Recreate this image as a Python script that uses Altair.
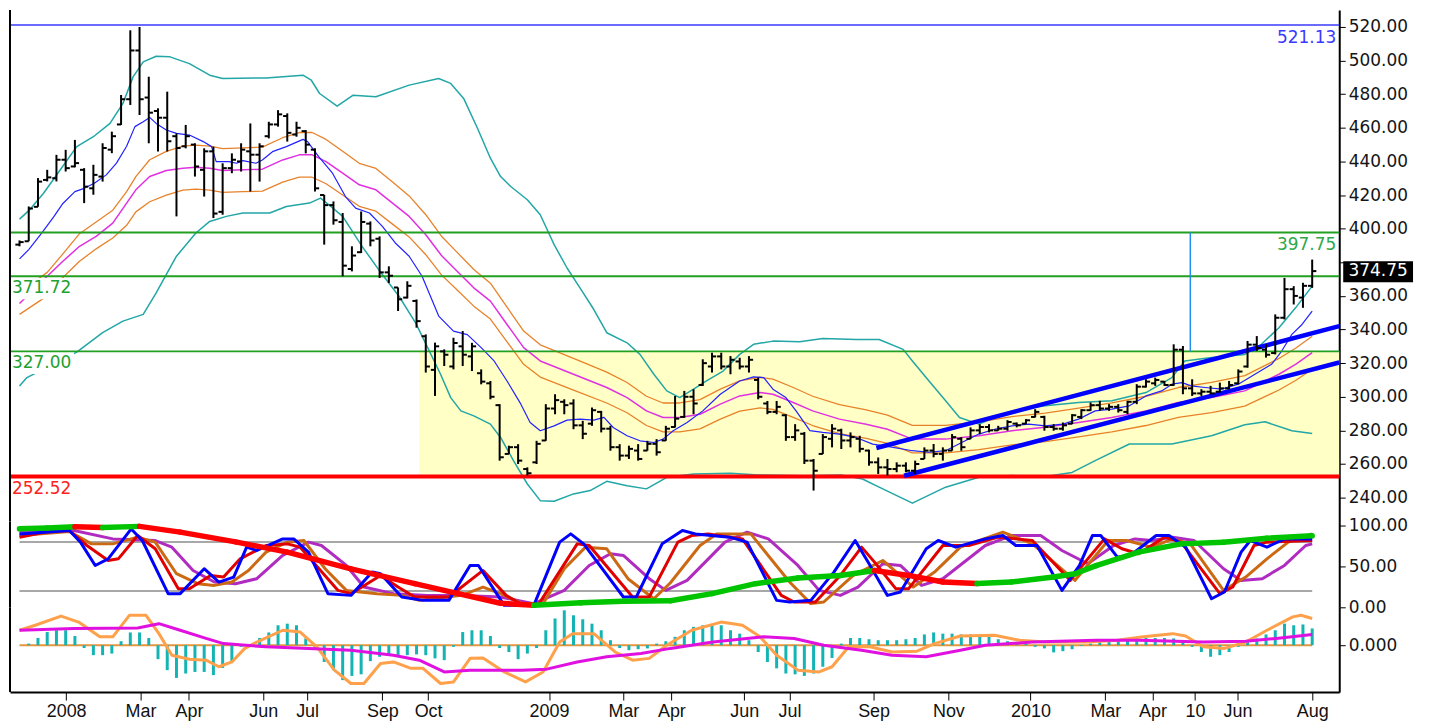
import json
import altair as alt
import pandas as pd

# ---------------- weekly price bars (week 0 = late Nov 2007 ... week 140 = Aug 2010) ----------------
opens = [390.5, 392.5, 413.0, 429.0, 430.0, 441.0, 437.0, 435.0, 424.0, 431.0,
         447.0, 462.0, 477.0, 506.0, 478.0, 470.0, 466.0, 455.0, 449.0, 450.0,
         435.0, 446.0, 410.0, 436.0, 440.0, 446.0, 444.0, 455.0, 462.0, 467.0,
         456.0, 458.0, 447.0, 420.0, 414.0, 404.0, 376.0, 386.0, 403.0, 394.0,
         374.0, 365.0, 359.0, 357.0, 336.0, 316.0, 327.0, 318.0, 330.0, 324.0,
         314.0, 308.0, 295.0, 266.0, 270.0, 257.0, 261.0, 274.0, 293.0, 297.0,
         296.0, 283.0, 284.0, 291.0, 281.0, 270.0, 265.0, 268.0, 268.0, 272.0,
         274.0, 282.0, 288.0, 300.0, 307.0, 318.0, 324.0, 318.0, 321.0, 318.0,
         310.0, 296.0, 291.0, 289.0, 276.0, 278.0, 262.0, 266.0, 275.0, 280.0,
         274.0, 275.0, 268.0, 261.0, 258.0, 257.0, 259.0, 256.0, 263.0, 268.0,
         266.0, 268.0, 275.0, 275.0, 280.0, 282.0, 280.0, 281.0, 284.0, 284.0,
         288.0, 288.0, 282.0, 281.0, 284.0, 288.0, 292.0, 295.0, 293.0, 294.0,
         291.0, 297.0, 306.0, 308.0, 309.0, 307.0, 328.0, 305.0, 302.0, 303.0,
         303.0, 305.0, 308.0, 318.0, 331.0, 328.0, 326.0, 347.0, 364.0, 359.0,
         366.0]
highs = [393.0, 413.2, 430.1, 435.0, 443.9, 446.9, 452.8, 436.0, 438.0, 450.8,
         457.7, 479.5, 518.0, 520.0, 490.4, 471.6, 481.5, 456.7, 461.7, 450.8,
         447.8, 448.8, 438.9, 444.8, 450.8, 462.6, 450.8, 463.6, 470.5, 468.6,
         463.6, 458.7, 447.8, 420.1, 416.2, 409.3, 389.5, 410.2, 404.3, 395.4,
         377.6, 365.0, 368.7, 357.9, 337.1, 332.2, 328.2, 335.1, 339.1, 332.1,
         316.3, 309.4, 295.6, 270.9, 271.8, 258.0, 273.8, 295.6, 301.5, 298.5,
         298.5, 285.7, 293.6, 291.6, 282.7, 271.8, 270.9, 271.8, 273.8, 274.8,
         282.7, 300.5, 303.5, 304.5, 322.3, 326.2, 326.2, 324.2, 323.2, 324.2,
         311.4, 297.5, 297.5, 289.6, 283.7, 279.0, 263.0, 277.8, 283.7, 281.0,
         278.8, 276.8, 268.5, 263.9, 263.0, 261.0, 261.0, 262.0, 269.9, 271.9,
         269.9, 277.8, 276.0, 281.8, 283.7, 283.7, 282.7, 286.1, 284.7, 286.7,
         292.6, 288.7, 283.7, 284.7, 289.7, 292.6, 296.6, 297.6, 295.6, 295.6,
         297.6, 307.5, 310.4, 311.4, 309.4, 331.2, 330.2, 310.4, 304.5, 306.5,
         308.4, 309.4, 316.3, 333.2, 336.1, 331.2, 349.0, 370.7, 365.8, 367.8,
         381.6]
lows = [389.5, 392.5, 413.0, 428.1, 428.1, 434.0, 436.5, 415.2, 420.2, 428.0,
        444.9, 461.7, 473.6, 467.6, 450.8, 445.9, 445.9, 407.3, 447.8, 431.0,
        419.1, 406.3, 408.3, 433.0, 434.0, 422.1, 428.0, 453.7, 460.7, 451.8,
        454.7, 444.8, 422.1, 390.5, 402.4, 371.7, 374.6, 385.5, 389.5, 370.7,
        367.7, 351.0, 358.5, 341.1, 314.4, 300.5, 318.3, 316.3, 318.3, 315.3,
        307.4, 298.5, 262.0, 265.9, 260.0, 253.1, 260.0, 273.8, 289.6, 289.6,
        280.7, 274.8, 282.7, 278.8, 267.9, 262.0, 263.0, 262.0, 267.9, 265.0,
        273.8, 281.7, 287.5, 289.6, 306.4, 314.4, 316.3, 313.4, 316.3, 314.4,
        298.5, 289.6, 289.6, 273.8, 273.8, 260.0, 244.2, 265.9, 269.9, 268.9,
        269.9, 266.9, 259.0, 254.1, 253.1, 255.1, 255.1, 254.1, 263.0, 264.0,
        262.0, 267.9, 267.9, 274.8, 277.8, 278.8, 279.8, 279.8, 281.8, 283.7,
        287.7, 279.8, 279.8, 279.8, 283.7, 286.7, 291.6, 291.6, 291.6, 290.6,
        289.7, 295.6, 305.5, 306.5, 306.5, 306.5, 301.5, 300.5, 300.5, 301.5,
        302.5, 304.5, 307.4, 317.3, 327.2, 323.3, 325.2, 346.0, 354.9, 352.9,
        364.8]
closes = [392.0, 412.0, 428.0, 430.5, 441.0, 436.0, 439.0, 425.0, 432.0, 448.0,
          455.0, 477.0, 506.0, 477.0, 469.0, 466.0, 452.0, 448.0, 455.0, 437.0,
          446.0, 409.0, 436.0, 441.0, 447.0, 444.0, 449.0, 462.0, 468.0, 457.0,
          460.0, 450.0, 424.0, 414.0, 405.0, 378.0, 384.0, 404.0, 393.0, 374.0,
          372.0, 358.0, 366.0, 345.0, 318.0, 330.0, 325.0, 332.0, 325.0, 330.0,
          309.0, 300.0, 264.0, 270.0, 262.0, 254.5, 272.0, 293.0, 298.0, 295.0,
          283.0, 278.0, 292.0, 281.0, 270.0, 265.0, 269.0, 263.0, 272.0, 267.0,
          281.0, 287.0, 300.0, 296.0, 320.0, 324.0, 318.0, 322.0, 318.0, 322.0,
          300.0, 291.0, 294.0, 276.0, 280.0, 262.0, 256.0, 276.0, 281.0, 274.0,
          276.0, 269.0, 261.0, 258.0, 257.0, 259.0, 256.0, 260.0, 268.0, 266.0,
          268.0, 276.0, 270.0, 280.0, 282.0, 280.0, 281.0, 285.0, 283.0, 286.0,
          291.0, 282.0, 281.0, 283.0, 289.0, 292.0, 295.0, 293.0, 294.0, 292.0,
          297.0, 306.0, 309.0, 310.0, 307.0, 328.0, 305.0, 302.0, 303.0, 302.0,
          305.0, 307.0, 315.0, 331.0, 329.0, 325.0, 347.0, 364.0, 360.0, 366.0,
          374.75]

# ---------------- price-panel indicator lines (week, value) ----------------
ma_fast_wk = [0, 1, 2.4, 3.7, 4.7, 6, 7, 8.1, 9.4, 10.5, 11.6, 12.5, 13.4, 14.1, 14.8, 15.9, 17, 18.4, 19.9, 20.8,
              21.3, 22.7, 23.5, 24.2, 25.6, 26.3, 27.4, 28.9, 30.7, 31.2, 32.4, 33.9, 35.3, 36.4, 37.9, 39.3, 40.7, 42.2, 43.6, 45.4,
              47, 48.5, 50, 51.4, 52.8, 54.3, 55.3, 56.4, 57.9, 59.3, 60.7, 62.2, 63.3, 64.3, 65.8, 67.2, 68.7, 69.7, 70.8, 72.3,
              74, 75.9, 78, 79.5, 80.6, 81.6, 83, 84.1, 85.6, 87, 88.8, 90.6, 92.4, 94, 96.7, 98.5, 100.3, 102.1, 103.9, 105.7,
              107.5, 109.3, 111.1, 113, 114.7, 116.5, 118.3, 120.2, 122, 123.7, 124.8, 125.9, 126.9, 128.4, 130.2, 132, 133.8, 135.6, 136.7, 137.8,
              138.9, 140]
ma_fast = [382, 387.5, 397.4, 407, 415, 422, 424, 427, 432, 439, 449, 460.7, 463.6, 466.2, 462.6, 458.7, 456.7, 455.7, 451.8, 448.8,
           439.9, 439.9, 438.9, 440.5, 438.9, 440.9, 445.8, 448.8, 453.1, 451.8, 442.9, 433, 419.1, 412.2, 409.3, 401.4, 391.5, 383.6, 371.7, 348,
           339, 337, 329.2, 321.3, 309.4, 295.6, 284.7, 279.8, 282.7, 286.1, 286.7, 286.1, 287.7, 281.7, 276.8, 273.8, 272.8, 274.8, 279.8, 284.7,
           291.6, 301.5, 309.4, 311.8, 311.4, 304.5, 299.5, 291.6, 279.8, 278.8, 277.8, 275.8, 271.8, 270.5, 267.9, 267, 267.9, 272.9, 277.8, 280.8,
           282.7, 283.7, 282.7, 283.7, 286.7, 291.6, 292.6, 294.6, 300.5, 303.5, 307.5, 308.4, 306.5, 305.5, 304.5, 307.5, 313.4, 319.3, 327.2, 337.1,
           343, 350.9]

bb_up_wk = [0, 1.1, 2.6, 4.4, 6.2, 8, 9.8, 11.2, 12.3, 13.4, 14.8, 16.3, 18.4, 20.6, 22, 26.7, 30.7, 31.6, 32.5, 34.4,
            36.1, 38.6, 42.2, 45.4, 46.7, 48.1, 49.6, 51, 52.1, 53.2, 55, 56.4, 57.9, 59.3, 60.7, 62.2, 63.6, 65.8, 67.2, 68.7,
            70.1, 71.5, 73, 74.4, 76.2, 78, 79.5, 81.6, 84.5, 87, 90.6, 93.1, 95.7, 96.7, 98.5, 100.3, 101.8, 103.9, 107.5, 111.1,
            114.7, 118.3, 122, 124.8, 126.2, 129.1, 132.7, 134.5, 136.4, 138.2, 140]
bb_up = [405.7, 411.2, 421.1, 434.9, 448.8, 454.7, 462.6, 474.5, 490.3, 499.2, 502.6, 502.2, 498.2, 491.3, 489.3, 489.7, 491.3, 488.3, 480.4, 472.9,
         479.3, 478.5, 485.4, 489.3, 486.4, 477.5, 459.7, 441.9, 431, 425.1, 417.2, 408.3, 390.5, 376.6, 364.8, 351.9, 338.1, 332.1, 325.2, 313.4,
         303.5, 299.5, 304.5, 309.4, 315.3, 325.2, 331.2, 333.1, 332.7, 334.7, 334.1, 334.1, 328.2, 321.3, 309.4, 297.6, 287.7, 283.7, 291.6, 294.6,
         296.6, 297.6, 302.5, 311.4, 321.3, 323.3, 325.2, 331.2, 341.1, 352.9, 365.8]

bb_dn_wk = [0, 0.8, 6.2, 9, 11.2, 13.4, 14.8, 17, 19.1, 20.6, 22.4, 24.2, 27.1, 28.9, 31.4, 32.6, 33.5, 35, 37.1, 38.9,
            41.1, 42.9, 44.3, 45.6, 46.7, 47.8, 49.2, 51, 52.1, 53.5, 55, 56.4, 57.9, 60, 61.8, 63.6, 65.8, 67.9, 70.1, 73,
            77, 80, 85, 89, 91.3, 93.1, 96.7, 100.3, 103.9, 107.5, 111.1, 114, 116.5, 120.2, 124.8, 129.1, 132.7, 134.9, 137.8, 140]
bb_dn = [306.4, 311.4, 326.6, 338.1, 345, 349, 361.8, 383.6, 397.4, 404.3, 407.3, 409.3, 409.3, 413.2, 415.2, 418.2, 414.2, 407.3, 389.5, 375.6,
         359.8, 344, 328.2, 313.4, 299.5, 291.6, 288.6, 283.7, 275.8, 262, 248.1, 238.2, 237.8, 242.2, 244.2, 249.7, 247.1, 245.2, 252.1, 254,
         254.5, 253.5, 253, 253.5, 251.1, 246.2, 236.7, 246.2, 252.1, 253.1, 252.5, 255, 262, 271.9, 271.9, 276.8, 283.3, 285.1, 279.8, 278.2]

ma_mid_wk = [0, 3, 4.7, 6.5, 8.3, 10.1, 11.6, 12.6, 14.1, 15.9, 17.7, 19.1, 20.6, 22, 24.2, 26.3, 28.5, 30.3, 31.7, 33.2,
             35, 36.8, 38.6, 40.4, 42.2, 44, 45.7, 47.4, 49.2, 51, 52.8, 54.6, 56.4, 60, 63.6, 65.8, 67.9, 69.7, 71.5, 73.7,
             75.9, 78, 80.2, 81.6, 83.8, 85.9, 88.8, 91.7, 94, 96.7, 100.3, 103.9, 107.5, 111.1, 114.7, 118.3, 122, 125.5, 129.1, 132.7,
             136.4, 138.2, 140]
ma_mid = [355.5, 371.7, 380.6, 389.5, 395.4, 403.3, 415.2, 423.1, 431, 434.6, 436, 436.6, 436, 434.6, 435, 435.4, 440.9, 443.9, 443.9, 439.9,
          433, 426.1, 423.1, 415.2, 407.3, 396.4, 384, 374.7, 364.8, 356.9, 343, 329.2, 321.3, 313.4, 305.5, 299.5, 291.6, 287.7, 287.7, 289.6,
          295.6, 300.5, 302.5, 301.5, 296.6, 291.6, 286.7, 283.7, 280.7, 274.8, 274.8, 276.8, 279.8, 281.8, 284.7, 287.7, 291.6, 296.6, 299.5, 303.5,
          313.4, 319.3, 326.2]
env_up = [362, 374, 385, 397, 404, 411, 422, 431, 441, 446, 449.1, 449.7, 449.1, 447.6, 448.1, 448.5, 454.1, 457.2, 457.2, 453.1,
          446.0, 438.9, 435.8, 427.7, 419.5, 408.3, 395.5, 385.9, 375.7, 367.6, 353.3, 339.1, 330.9, 322.8, 314.7, 308.5, 300.3, 296.3, 296.3, 298.3,
          304.5, 309.5, 311.6, 310.5, 305.5, 300.3, 295.3, 292.2, 289.1, 283.0, 283.0, 285.1, 288.2, 290.3, 293.2, 296.3, 300.3, 305.5, 308.5, 312.6,
          322.8, 328.9, 336.0]
env_dn = [349, 360, 371, 380.6, 388, 394.4, 402, 410, 416, 420, 422.9, 423.5, 422.9, 421.6, 422.0, 422.3, 427.7, 430.6, 430.6, 426.7,
          420.0, 413.3, 410.4, 402.7, 395.1, 384.5, 372.5, 363.5, 353.9, 346.2, 332.7, 319.3, 311.7, 304.0, 296.3, 290.5, 282.9, 279.1, 279.1, 280.9,
          286.7, 291.5, 293.4, 292.5, 287.7, 282.9, 278.1, 275.2, 272.3, 266.6, 266.6, 268.5, 271.4, 273.3, 276.2, 279.1, 282.9, 287.7, 290.5, 294.4,
          304.0, 309.7, 316.4]

# trend channel, levels, zone
channel_up_wk = [92.8, 142.93]
channel_up = [269.5, 342.0]
channel_dn_wk = [95.8, 142.93]
channel_dn = [253.0, 320.4]
level_vals = [521.13, 397.75, 371.72, 327.00, 252.52]
zone_wk = [43.3, 142.93]
marker_wk = 126.8
last_price = 374.75

# ---------------- stochastic panel (week, value) ----------------
sto_blue_wk = [0, 2.7, 5.4, 6.6, 8.2, 9.6, 12.1, 13.3, 16.1, 17.4, 20.0, 21.6, 23.2, 24.6, 25.7, 28.5, 29.7, 31.3, 33.4, 35.9,
               38.2, 39.1, 41.4, 43.7, 46.5, 48.8, 49.7, 52.5, 55.7, 58.5, 59.7, 61.1, 65.4, 66.8, 69.6, 71.8, 73.2, 76.9, 78.8, 82.0,
               83.4, 85.7, 88.2, 90.5, 91.9, 94.0, 95.4, 98.2, 99.5, 101.4, 104.6, 106.5, 107.9, 110.2, 112.9, 114.8, 116.2, 117.1, 118.9, 120.3,
               123.1, 124.5, 126.3, 129.1, 130.5, 132.3, 133.3, 135.1, 137.0, 140.0]
sto_blue = [89.8, 91.9, 93.9, 79.7, 51.2, 59.3, 95.9, 81.7, 16.7, 16.7, 47.2, 30.9, 37.0, 73.6, 69.5, 83.7, 83.7, 67.5, 16.7, 14.6,
            43.1, 41.1, 12.6, 8.5, 8.5, 51.2, 51.2, 2.4, 2.4, 79.7, 89.8, 77.6, 12.6, 12.6, 77.6, 93.9, 89.8, 85.8, 79.7, 8.5,
            6.5, 8.5, 43.1, 81.7, 55.3, 14.6, 18.7, 71.6, 81.7, 73.6, 83.7, 87.8, 75.6, 75.6, 20.7, 51.2, 87.8, 87.8, 61.4, 63.4,
            87.8, 87.8, 73.6, 10.5, 18.7, 67.5, 81.7, 73.6, 83.7, 83.7]
sto_red_wk = [0, 2.7, 5.4, 7.3, 9.6, 10.7, 12.8, 14.7, 17.2, 18.4, 20.7, 22.1, 23.9, 26.7, 29.0, 30.4, 34.5, 35.9, 39.1, 41.0,
              42.8, 46.5, 50.2, 52.7, 54.4, 56.2, 60.4, 61.7, 66.4, 68.2, 71.3, 72.8, 74.6, 78.3, 82.5, 83.9, 86.2, 88.9, 91.2, 92.6,
              94.9, 96.3, 100.0, 102.8, 106.0, 109.7, 113.8, 115.7, 117.5, 119.4, 121.2, 124.0, 125.8, 130.0, 131.4, 133.7, 135.1, 140.0]
sto_red = [85.8, 91.9, 93.9, 75.6, 57.3, 59.3, 87.8, 71.6, 22.8, 22.8, 39.0, 37.0, 59.3, 75.6, 77.6, 73.6, 20.7, 16.7, 39.0, 24.8,
           12.6, 12.6, 45.1, 14.6, 3.3, 3.3, 77.6, 75.6, 12.6, 12.6, 79.7, 87.8, 89.8, 83.7, 14.6, 6.5, 6.5, 39.0, 73.6, 55.3,
           22.8, 22.8, 75.6, 75.6, 85.8, 81.7, 32.9, 59.3, 83.7, 71.6, 65.5, 85.8, 79.7, 16.7, 24.8, 75.6, 79.7, 81.7]
sto_brown_wk = [0, 5.4, 7.8, 10.1, 12.8, 14.7, 17.0, 19.3, 21.1, 23.0, 24.8, 26.7, 29.0, 30.8, 33.1, 35.4, 38.7, 41.4, 43.3, 47.9,
                50.2, 52.1, 54.4, 56.7, 59.0, 61.3, 63.6, 65.9, 68.7, 70.5, 73.7, 75.5, 79.2, 83.4, 85.7, 87.1, 90.3, 93.5, 96.8, 99.1,
                101.9, 106.5, 109.7, 114.3, 117.9, 119.9, 122.6, 124.9, 126.8, 130.4, 132.8, 135.1, 137.4, 140.0]
sto_brown = [87.8, 92.7, 77.6, 77.6, 85.8, 79.7, 41.1, 28.9, 26.8, 30.9, 45.1, 67.5, 79.7, 81.7, 47.2, 20.7, 16.7, 14.6, 8.5, 14.6,
             24.8, 16.7, 4.5, 4.5, 47.2, 73.6, 71.6, 35.0, 10.5, 30.0, 75.6, 89.8, 89.8, 30.9, 4.5, 6.5, 39.0, 57.3, 24.8, 43.1,
             73.6, 91.9, 77.6, 32.9, 81.7, 81.7, 73.6, 83.7, 77.6, 20.7, 37.0, 59.3, 79.7, 89.8]
sto_purple_wk = [0, 5.9, 10.1, 14.7, 16.5, 18.8, 21.1, 23.4, 25.7, 28.5, 31.3, 32.7, 35.4, 37.3, 40.5, 44.2, 47.9, 52.1, 55.7, 59.0,
                 61.7, 64.0, 65.4, 68.2, 70.0, 72.3, 76.4, 78.8, 81.1, 84.3, 86.6, 88.9, 90.8, 93.5, 95.4, 97.7, 100.0, 104.6, 107.4, 110.6,
                 112.9, 115.7, 118.5, 120.8, 122.6, 124.9, 127.2, 130.4, 132.3, 134.6, 137.0, 139.3, 140.0]
sto_purple = [91.9, 93.9, 83.7, 81.7, 73.6, 45.1, 30.9, 28.9, 35.0, 63.4, 79.7, 75.6, 51.2, 24.8, 16.7, 14.6, 14.6, 12.6, 4.5, 20.7,
              51.2, 65.5, 63.4, 35.0, 20.7, 32.9, 79.7, 91.9, 83.7, 51.2, 20.7, 14.6, 24.8, 53.3, 51.2, 26.8, 35.0, 75.6, 87.8, 87.8,
              69.5, 53.3, 75.6, 83.7, 81.7, 85.8, 81.7, 47.2, 32.9, 35.0, 51.2, 75.6, 77.6]
sto_slow_wk = [0, 3, 6, 9, 13, 17.4, 23.4, 29, 35.9, 42.8, 47.4, 52.1, 55.7, 60.8, 65.4, 70.5, 75, 79.7, 84.3, 88.9,
               92.6, 96.3, 100, 103.7, 107.4, 112, 114.3, 116.6, 121.2, 125.8, 130.4, 135.1, 140]
sto_slow = [96.0, 97.0, 98.5, 97.5, 99.0, 92.0, 80.0, 67.5, 47.0, 29.0, 17.0, 5.0, 2.5, 5.5, 7.3, 8.0, 16.7, 28.9, 35.8, 39.0,
            45.0, 39.0, 31.0, 29.0, 31.0, 37.0, 41.0, 51.0, 67.5, 77.6, 79.7, 84.6, 87.5]
sto_bands = [80, 20]

# ---------------- MACD panel ----------------
macd_wk = [0, 1.7, 4.5, 6.4, 8.7, 10.1, 11.9, 13.7, 15.1, 16.5, 18.4, 20.2, 21.6, 23.0, 24.4, 25.7, 28.5, 30.4, 32.2, 34.1,
           35.9, 37.3, 39.1, 40.5, 42.4, 43.7, 45.6, 47.0, 48.8, 50.2, 52.5, 54.8, 56.7, 58.5, 59.9, 62.2, 64.5, 66.4, 68.2, 70.1,
           72.8, 76.0, 78.3, 80.2, 82.0, 84.3, 86.6, 88.0, 89.8, 92.1, 94.5, 97.2, 99.1, 101.9, 105.6, 108.3, 111.1, 115.7, 118.9, 121.7,
           124.9, 126.3, 128.2, 130.5, 132.8, 135.1, 137.9, 138.8, 140.0]
macd = [3.75, 5.0, 7.3, 5.8, 2.1, 2.1, 7.5, 7.5, 2.9, -2.5, -3.5, -3.75, -5.4, -4.2, -0.8, 0.8, 3.75, 3.3, -0.4, -6.25,
        -9.6, -9.6, -4.6, -4.2, -5.8, -5.8, -9.6, -9.2, -3.3, -3.2, -6.7, -9.2, -6.7, 0.8, 2.9, 2.9, -1.7, -3.75, -3.3, 0.0,
        3.75, 5.8, 5.0, 2.1, -2.5, -6.25, -6.7, -5.4, -0.4, -0.4, -1.7, -1.5, 0.4, 2.3, 2.5, 1.25, 0.8, 0.8, 1.25, 2.1,
        2.9, 2.3, -0.4, -0.8, 0.8, 3.75, 7.1, 7.5, 6.7]
signal_wk = [0, 5.9, 12.8, 15.1, 17.4, 20.2, 22.1, 26.7, 31.3, 35.9, 40.5, 43.3, 46.0, 48.8, 54.4, 57.1, 60.4, 63.6, 67.3, 70.5,
             75.1, 80.6, 83.9, 87.1, 91.2, 94.5, 98.2, 101.9, 104.6, 109.7, 116.6, 121.2, 128.2, 132.8, 136.1, 140.0]
signal = [3.75, 4.2, 4.3, 5.4, 3.75, 1.7, 0.4, -0.4, -0.8, -1.25, -2.5, -3.75, -6.7, -6.25, -6.25, -6.0, -4.2, -2.9, -2.1, -0.8,
          0.8, 2.1, 1.7, 0.0, -1.25, -2.5, -2.9, -1.25, 0.0, 0.8, 1.25, 1.25, 0.8, 1.0, 1.7, 2.7]
hist = [0, 0.4, 1.8, 3.3, 3.75, 3.75, 2.3, -0.7, -2.5, -2.5,
        -2.1, 1.0, 3.2, 3.2, 1.8, -3.5, -6.25, -8.2, -7.1, -6.7,
        -6.7, -7.5, -5.7, -4.2, -0.4, 0, 1.8, 3.2, 5.0, 5.4,
        5.0, 1.7, -0.7, -4.2, -6.25, -8.75, -7.7, -7.3, -4.0, -2.9,
        -2.5, -2.9, -2.5, -2.3, -2.5, -3.3, -3.75, -0.4, 3.3, 3.75,
        3.75, 2.3, -0.7, -1.7, -3.5, -2.1, -0.7, 3.75, 6.7, 8.75,
        7.5, 6.5, 5.4, 3.75, 1.25, -0.7, -1.25, -1.0, -0.8, 0.4,
        1.0, 2.1, 3.75, 4.6, 5.0, 5.2, 5.0, 3.75, 2.9, 1.25,
        -1.7, -4.2, -5.8, -7.1, -7.3, -7.7, -7.1, -5.4, -3.2, 0.4,
        1.8, 1.8, 1.5, 1.25, 1.25, 1.25, 1.5, 1.8, 2.7, 3.2,
        2.9, 2.9, 2.7, 2.7, 2.3, 2.1, 1.5, 1.0, 0.8, 0.4,
        -0.4, -0.8, -1.8, -1.5, -1.0, -0.2, 0.4, 0.8, 0.8, 1.0,
        1.25, 1.7, 1.8, 1.8, 1.8, 1.7, 1.0, -0.4, -1.7, -2.9,
        -2.5, -1.7, -0.4, 1.0, 1.7, 2.7, 3.75, 5.4, 5.0, 5.2,
        4.2]

# ---------------- x-axis ticks ----------------
tick_wk = [5.05, 13.1, 18.35, 26.4, 31.15, 39.3, 44.25, 57.35, 65.4, 70.6,
           78.5, 83.4, 92.5, 100.6, 109.5, 117.6, 122.7, 127.3, 131.9, 140.0]
tick_lbl = ["2008", "Mar", "Apr", "Jun", "Jul", "Sep", "Oct", "2009", "Mar", "Apr",
            "Jun", "Jul", "Sep", "Nov", "2010", "Mar", "Apr", "10", "Jun", "Aug"]

# ---------------- layout / style ----------------
W = 1333
H_P, H_S, H_M = 513, 86, 85
X_DOM = [-1.03, 142.93]
FONT = "DejaVu Sans"
XFONT = "Liberation Sans Narrow, Liberation Sans, Arial, sans-serif"


def frame(xs, ys):
    return pd.DataFrame([{"week": a, "v": b} for a, b in zip(xs, ys)])


def xenc(field, axis=None):
    return alt.X(field, type="quantitative",
                 scale=alt.Scale(domain=X_DOM, zero=False, nice=False), axis=axis)


def right_axis(values, fmt, expr=None):
    kw = dict(orient="right", values=values, format=fmt, labelFont=FONT, labelFontSize=17,
              labelColor="#151515", labelPadding=3, tickSize=6, tickColor="black",
              domainColor="black", domainWidth=2, grid=False, title=None,
              labelFlush=False, labelOverlap=False)
    if expr:
        kw["labelExpr"] = expr
    return alt.Axis(**kw)


p_scale = alt.Scale(domain=[225.76, 530.08], zero=False, nice=False)
p_axis = right_axis(list(range(240, 521, 20)), ".2f",
                    "datum.value == 380 ? '' : format(datum.value, '.2f')")
s_scale = alt.Scale(domain=[0, 104.9], zero=False, nice=False)
s_axis = right_axis([0, 50, 100], ".2f")
m_scale = alt.Scale(domain=[-11.75, 9.5], zero=False, nice=False)
m_axis = right_axis([0], ".3f")

x_axis = alt.Axis(orient="bottom", values=tick_wk,
                  labelExpr=f"{json.dumps(tick_lbl)}[indexof({json.dumps(tick_wk)}, datum.value)]",
                  tickSize=8, tickColor="black", domainColor="black", domainWidth=2,
                  labelFont=XFONT, labelFontSize=18, labelColor="#111111", labelPadding=2,
                  grid=False, title=None, labelOverlap=False, labelFlush=False)


def yp(f):
    return alt.Y(f, type="quantitative", scale=p_scale, axis=p_axis)


def ys(f):
    return alt.Y(f, type="quantitative", scale=s_scale, axis=s_axis)


def ym(f):
    return alt.Y(f, type="quantitative", scale=m_scale, axis=m_axis)


def line(xs, vals, color, width, yfn, axis=None):
    return alt.Chart(frame(xs, vals)).mark_line(color=color, strokeWidth=width, strokeJoin="round").encode(
        x=xenc("week", axis), y=yfn("v"))


def border(h):
    return alt.Chart(pd.DataFrame({"a": [0]})).mark_rule(color="black", strokeWidth=2).encode(
        x=alt.value(0), y=alt.value(0), y2=alt.value(h))


# ---------------- price panel ----------------
zone = alt.Chart(pd.DataFrame({"x0": [zone_wk[0]], "x1": [zone_wk[1]],
                               "y0": [level_vals[4]], "y1": [level_vals[3]]})).mark_rect(
    color="#FFFFC6").encode(x=xenc("x0"), x2="x1", y=yp("y0"), y2="y1")

teal = "#22A6A6"
bb_u = line(bb_up_wk, bb_up, teal, 1.5, yp)
bb_d = line(bb_dn_wk, bb_dn, teal, 1.5, yp)
e_u = line(ma_mid_wk, env_up, "#E8822A", 1.3, yp)
e_d = line(ma_mid_wk, env_dn, "#E8822A", 1.3, yp)
mid = line(ma_mid_wk, ma_mid, "#E030E0", 1.5, yp)
fast = line(ma_fast_wk, ma_fast, "#2222FF", 1.2, yp)

level_colors = ["#3A3AFF", "#22A022", "#22A022", "#22A022", "#FF0000"]
level_widths = [1.5, 2, 2, 2, 4]
levels = [alt.Chart(pd.DataFrame({"v": [v]})).mark_rule(color=c, strokeWidth=w).encode(y=yp("v"))
          for v, c, w in zip(level_vals, level_colors, level_widths)]

ch_u = alt.Chart(frame(channel_up_wk, channel_up)).mark_line(color="#0000FF", strokeWidth=4.5, strokeCap="butt").encode(
    x=xenc("week"), y=yp("v"))
ch_d = alt.Chart(frame(channel_dn_wk, channel_dn)).mark_line(color="#0000FF", strokeWidth=4.5, strokeCap="butt").encode(
    x=xenc("week"), y=yp("v"))

marker = alt.Chart(pd.DataFrame({"week": [marker_wk], "lo": [level_vals[3]], "hi": [level_vals[1]]})).mark_rule(
    color="#2090F0", strokeWidth=1.5).encode(x=xenc("week"), y=yp("lo"), y2="hi")

ohlc = pd.DataFrame({"week": list(range(len(closes))), "open": opens, "high": highs,
                     "low": lows, "close": closes})
bar_hl = alt.Chart(ohlc).mark_rule(color="black", strokeWidth=2).encode(
    x=xenc("week"), y=yp("low"), y2="high")
bar_o = alt.Chart(ohlc).transform_calculate(xl="datum.week - 0.45").mark_rule(
    color="black", strokeWidth=2).encode(x=xenc("xl"), x2=alt.X2("week"), y=yp("open"))
bar_c = alt.Chart(ohlc).transform_calculate(xr="datum.week + 0.45").mark_rule(
    color="black", strokeWidth=2).encode(x=xenc("week"), x2=alt.X2("xr"), y=yp("close"))

# label backing boxes (white) at the left side
boxes = alt.Chart(pd.DataFrame({"x0": [X_DOM[0], X_DOM[0]], "x1": [5.9, 5.9],
                                "y0": [358.0, 313.6], "y1": [370.6, 326.0]})).mark_rect(color="white").encode(
    x=xenc("x0"), x2="x1", y=yp("y0"), y2="y1")

left_lbl = pd.DataFrame({"v": [371.72, 327.00, 252.52], "t": ["371.72", "327.00", "252.52"],
                         "c": ["#22A030", "#22A030", "#FF2020"]})
left_txt = alt.Chart(left_lbl).mark_text(align="left", baseline="top", dx=2, dy=4, font=FONT, fontSize=17).encode(
    x=alt.value(0), y=yp("v"), text="t:N", color=alt.Color("c:N", scale=None))
right_lbl = pd.DataFrame({"v": [521.13, 397.75], "t": ["521.13", "397.75"], "c": ["#3A3AFF", "#2EA84A"]})
right_txt = alt.Chart(right_lbl).mark_text(align="right", baseline="top", dx=-3, dy=5, font=FONT, fontSize=17).encode(
    x=alt.value(W), y=yp("v"), text="t:N", color=alt.Color("c:N", scale=None))

last_box = alt.Chart(pd.DataFrame({"lo": [368.1], "hi": [380.6]})).mark_rect(color="black").encode(
    x=alt.value(W + 4), x2=alt.value(W + 74), y=yp("lo"), y2="hi")
last_txt = alt.Chart(pd.DataFrame({"v": [last_price], "t": [f"{last_price:.2f}"]})).mark_text(
    align="center", baseline="middle", font=FONT, fontSize=17, color="white").encode(
    x=alt.value(W + 39), y=yp("v"), text="t:N")

price = alt.layer(zone, bb_u, bb_d, e_u, e_d, mid, fast, *levels, ch_u, ch_d, marker,
                  bar_hl, bar_o, bar_c, boxes, left_txt, right_txt, last_box, last_txt,
                  border(H_P)).properties(width=W, height=H_P)

# ---------------- stochastic panel ----------------
bands = alt.Chart(pd.DataFrame({"x0": [0, 0], "x1": [140, 140], "v": sto_bands})).mark_rule(
    color="#A8A8A8", strokeWidth=2).encode(x=xenc("x0"), x2="x1", y=ys("v"))
rows = []
for j in range(len(sto_slow) - 1):
    d = "down" if sto_slow[j + 1] < sto_slow[j] else "up"
    rows.append({"week": sto_slow_wk[j], "v": sto_slow[j], "seg": j, "dir": d})
    rows.append({"week": sto_slow_wk[j + 1], "v": sto_slow[j + 1], "seg": j, "dir": d})
slow_line = alt.Chart(pd.DataFrame(rows)).mark_line(strokeWidth=5.5, strokeCap="round").encode(
    x=xenc("week"), y=ys("v"), detail="seg:N",
    color=alt.Color("dir:N", scale=alt.Scale(domain=["up", "down"], range=["#00C400", "#FF0000"]), legend=None))

sto = alt.layer(
    bands,
    line(sto_purple_wk, sto_purple, "#B02CC0", 3, ys),
    line(sto_brown_wk, sto_brown, "#CC6A14", 3, ys),
    line(sto_red_wk, sto_red, "#E00000", 3, ys),
    line(sto_blue_wk, sto_blue, "#0000FF", 3, ys),
    slow_line,
    border(H_S),
).properties(width=W, height=H_S)

# ---------------- MACD panel ----------------
zero_line = alt.Chart(pd.DataFrame({"x0": [0], "x1": [140], "v": [0]})).mark_rule(
    color="#E8943C", strokeWidth=2).encode(x=xenc("x0", x_axis), x2="x1", y=ym("v"))
hist_df = pd.DataFrame({"week": list(range(len(hist))), "v": hist, "z": [0] * len(hist)})
hist_bars = alt.Chart(hist_df).mark_rule(color="#14B4B4", strokeWidth=3).encode(
    x=xenc("week", x_axis), y=ym("v"), y2="z")
macd_panel = alt.layer(
    zero_line,
    hist_bars,
    line(macd_wk, macd, "#FFA04A", 3, ym, x_axis),
    line(signal_wk, signal, "#E010E0", 3, ym, x_axis),
    border(H_M),
).properties(width=W, height=H_M)

chart = alt.vconcat(price, sto, macd_panel, spacing=0, bounds="flush").resolve_scale(
    x="independent", y="independent", color="independent"
).properties(padding={"left": 0, "top": 0, "right": 10, "bottom": 0}).configure_view(stroke=None)

chart.save("out.html", embed_options={"renderer": "svg", "actions": False})
